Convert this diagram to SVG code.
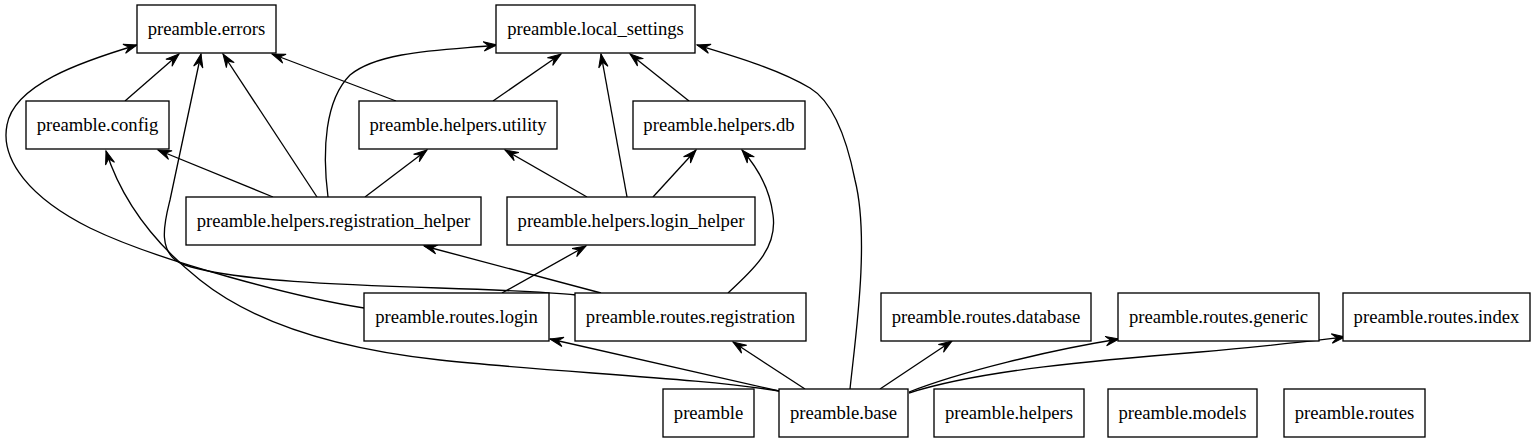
<svg xmlns="http://www.w3.org/2000/svg" width="1535" height="443" viewBox="0 0 1535 443">
<style>
.n rect{fill:#fff;stroke:#000;stroke-width:1.33}
.n text{font-family:"Liberation Serif","Times New Roman",serif;font-size:18.67px;text-anchor:middle;fill:#000}
.e path{fill:none;stroke:#000;stroke-width:1.33;marker-end:url(#vee)}
</style>
<defs>
<marker id="vee" markerUnits="userSpaceOnUse" markerWidth="14" markerHeight="10" refX="13.3" refY="5" orient="auto" overflow="visible">
<path d="M0,0.3 L13.3,5 L0,9.7 L5,5 Z" fill="#000" stroke="#000" stroke-width="1"/>
</marker>
</defs>
<rect width="1535" height="443" fill="#fff"/>
<g id="connectors" class="e">
<path d="M125,101 L179,54"/>
<path d="M317,197 L223,54"/>
<path d="M396,101 L272,54"/>
<path d="M576,295 C480,285 260,290 185,265 C155,255 165,220 170,200 L201,54"/>
<path d="M364,308 C300,298 160,262 90,228 C30,198 0,160 7,125 C14,85 80,62 137,45"/>
<path d="M779,391 C700,378 550,372 440,360 C330,348 250,320 200,280 C150,240 120,195 106,151"/>
<path d="M273,197 L158,150"/>
<path d="M328,197 C322,150 325,100 350,75 C380,50 450,50 497,45"/>
<path d="M365,197 L427,150"/>
<path d="M493,101 L561,54"/>
<path d="M627,197 L601,54"/>
<path d="M689,101 L630,54"/>
<path d="M850,389 C855,340 870,240 855,180 C845,130 830,100 810,88 C780,70 740,58 697,45"/>
<path d="M587,197 L505,150"/>
<path d="M653,197 L696,150"/>
<path d="M728,293 C750,272 778,250 773,215 C770,190 758,168 742,150"/>
<path d="M601,293 L424,246"/>
<path d="M502,293 L586,246"/>
<path d="M779,391 L550,339"/>
<path d="M805,389 L733,342"/>
<path d="M880,389 L952,341"/>
<path d="M909,392 C960,372 1050,350 1119,339"/>
<path d="M909,393 C980,370 1100,360 1200,352 C1260,347 1310,341 1345,337"/>
</g>
<g id="preamble.errors" class="n"><rect x="137" y="5" width="139" height="48"/><text x="206.5" y="35">preamble.errors</text></g>
<g id="preamble.local_settings" class="n"><rect x="496" y="5" width="199" height="48"/><text x="595.5" y="35">preamble.local_settings</text></g>
<g id="preamble.config" class="n"><rect x="26" y="101" width="143" height="48"/><text x="97.5" y="131">preamble.config</text></g>
<g id="preamble.helpers.utility" class="n"><rect x="359" y="101" width="198" height="48"/><text x="458" y="131">preamble.helpers.utility</text></g>
<g id="preamble.helpers.db" class="n"><rect x="633" y="101" width="172" height="48"/><text x="719" y="131">preamble.helpers.db</text></g>
<g id="preamble.helpers.registration_helper" class="n"><rect x="186" y="197" width="295" height="48"/><text x="333.5" y="227">preamble.helpers.registration_helper</text></g>
<g id="preamble.helpers.login_helper" class="n"><rect x="507" y="197" width="248" height="48"/><text x="631" y="227">preamble.helpers.login_helper</text></g>
<g id="preamble.routes.login" class="n"><rect x="364" y="293" width="185" height="48"/><text x="456.5" y="323">preamble.routes.login</text></g>
<g id="preamble.routes.registration" class="n"><rect x="575" y="293" width="231" height="48"/><text x="690.5" y="323">preamble.routes.registration</text></g>
<g id="preamble.routes.database" class="n"><rect x="881" y="293" width="210" height="48"/><text x="986" y="323">preamble.routes.database</text></g>
<g id="preamble.routes.generic" class="n"><rect x="1118" y="293" width="201" height="48"/><text x="1218.5" y="323">preamble.routes.generic</text></g>
<g id="preamble.routes.index" class="n"><rect x="1343" y="293" width="187" height="48"/><text x="1436.5" y="323">preamble.routes.index</text></g>
<g id="preamble" class="n"><rect x="663" y="389" width="91" height="48"/><text x="708.5" y="419">preamble</text></g>
<g id="preamble.base" class="n"><rect x="779" y="389" width="129" height="48"/><text x="843.5" y="419">preamble.base</text></g>
<g id="preamble.helpers" class="n"><rect x="934" y="389" width="150" height="48"/><text x="1009" y="419">preamble.helpers</text></g>
<g id="preamble.models" class="n"><rect x="1108" y="389" width="149" height="48"/><text x="1182.5" y="419">preamble.models</text></g>
<g id="preamble.routes" class="n"><rect x="1284" y="389" width="141" height="48"/><text x="1354.5" y="419">preamble.routes</text></g>
</svg>
